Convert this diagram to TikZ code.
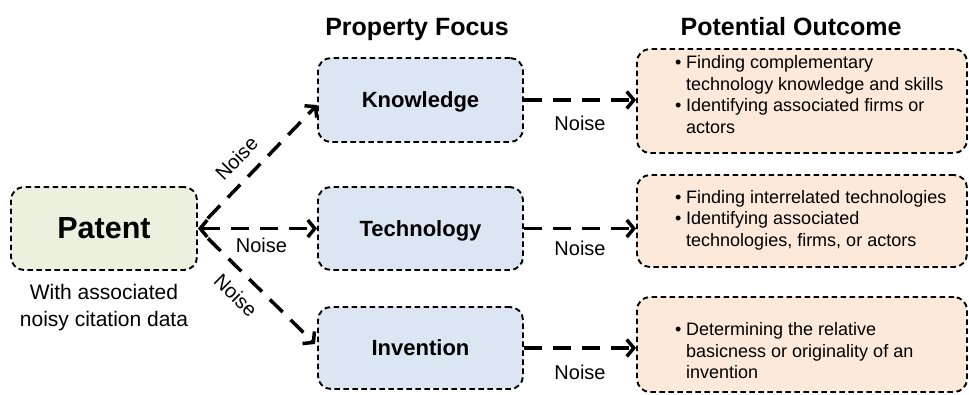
\documentclass[tikz,border=0pt]{standalone}
\usepackage{fontspec}
\setmainfont{Liberation Sans}
\usetikzlibrary{arrows.meta,calc}

\definecolor{patentfill}{HTML}{EBF1DE}
\definecolor{focusfill}{HTML}{DCE6F2}
\definecolor{outfill}{HTML}{FDE9D9}

% one bullet line and one continuation line of an outcome list
\newcommand{\bul}[1]{\makebox[11pt][l]{\textbullet}#1}
\newcommand{\cont}[1]{\hspace*{11pt}#1}

\begin{document}
\begin{tikzpicture}[x=1pt,y=-1pt,
  box/.style={draw=black, line width=1.9pt, dash pattern=on 5.5pt off 3.5pt,
    rounded corners=13pt, inner sep=0pt},
  focusbox/.style={box, fill=focusfill, minimum width=205pt,
    font=\bfseries\fontsize{22}{26}\selectfont, text depth=0pt},
  outbox/.style={box, fill=outfill, minimum width=330pt},
  outtext/.style={anchor=west, inner sep=0pt, align=left,
    font=\fontsize{18}{21.5}\selectfont},
  header/.style={anchor=base, inner sep=0pt, font=\bfseries\fontsize{25}{30}\selectfont},
  flow/.style={line width=3.5pt, dash pattern=on 18pt off 11pt,
    -{Straight Barb[length=7pt,width=17pt]}},
  noise/.style={font=\fontsize{20}{24}\selectfont, inner sep=2pt}]

\useasboundingbox (0,0) rectangle (969,394);

% column headers
\node[header] (hfocus) at (417,35) {Property Focus};
\node[header] (houtcome) at (791,35) {Potential Outcome};

% source
\node[box, fill=patentfill, minimum width=186pt, minimum height=83pt,
  font=\bfseries\fontsize{30.5}{36}\selectfont] (patent) at (104,228.5) {Patent};
\node[anchor=north, align=center, inner sep=0pt,
  font=\fontsize{21}{27.5}\selectfont] (patentsub) at (104,284)
  {With associated\\noisy citation data};

% property focus boxes
\node[focusbox, minimum height=84pt] (know) at (420.5,100) {Knowledge};
\node[focusbox, minimum height=83pt] (tech) at (420.5,228.5) {Technology};
\node[focusbox, minimum height=82pt] (inv) at (420.5,348) {Invention};

% outcome boxes
\node[outbox, minimum height=104pt] (out1) at (802,101) {};
\node[outbox, minimum height=92pt] (out2) at (802,221) {};
\node[outbox, minimum height=95pt] (out3) at (802,344.5) {};

\node[outtext] (out1t) at (675,94.5)
  {\bul{Finding complementary}\\
   \cont{technology knowledge and skills}\\
   \bul{Identifying associated firms or}\\
   \cont{actors}};
\node[outtext] (out2t) at (675,220)
  {\bul{Finding interrelated technologies}\\
   \bul{Identifying associated}\\
   \cont{technologies, firms, or actors}};
\node[outtext] (out3t) at (675,351)
  {\bul{Determining the relative}\\
   \cont{basicness or originality of an}\\
   \cont{invention}};

% connectors from the patent to each property
\coordinate (knowtip) at ($(know.west)+(0,5)$);
\coordinate (invtip) at ($(inv.west)+(-2,-4)$);

\draw[flow, shorten <=14pt] (patent.east) -- (knowtip)
  node[noise, pos=0.45, sloped, above=10pt] (n1) {Noise};
\draw[flow, {Straight Barb[length=7pt,width=17pt]}-{Straight Barb[length=7pt,width=17pt]}]
  (patent.east) -- (tech.west)
  node[noise, midway, below=6pt, xshift=4pt] (n2) {Noise};
\draw[flow, shorten <=14pt] (patent.east) -- (invtip)
  node[noise, pos=0.45, sloped, below=10pt] (n3) {Noise};

% connectors from each property to its outcome
\draw[flow] (know.east) -- (know.east -| out1.west)
  node[noise, midway, below=12pt] (n4) {Noise};
\draw[flow] (tech.east) -- (tech.east -| out2.west)
  node[noise, midway, below=9pt] (n5) {Noise};
\draw[flow] (inv.east) -- (inv.east -| out3.west)
  node[noise, midway, below=13pt] (n6) {Noise};

\end{tikzpicture}
\end{document}
